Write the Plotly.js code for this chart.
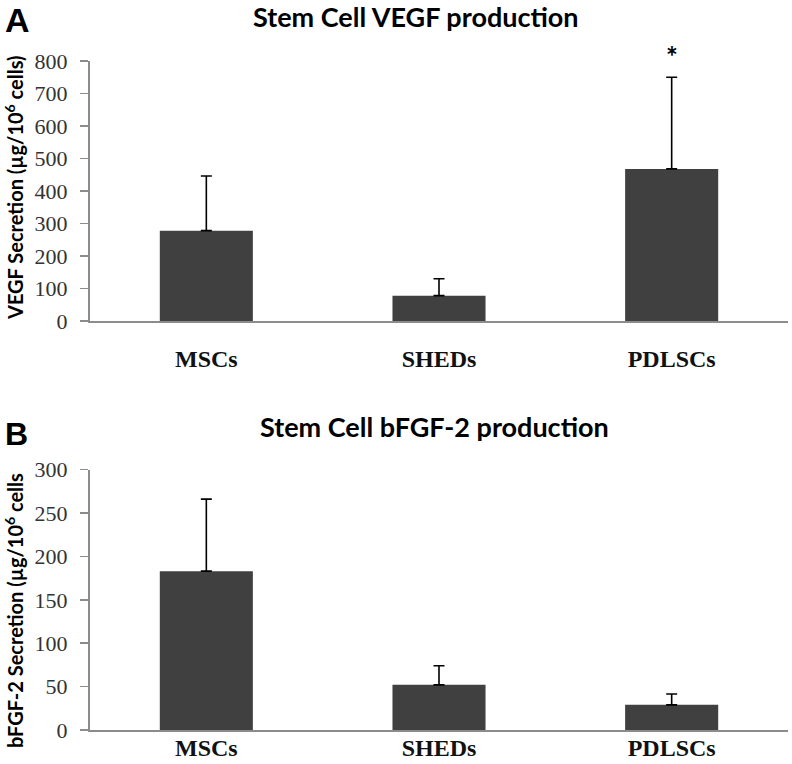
<!DOCTYPE html>
<html>
<head>
<meta charset="utf-8">
<script src="https://cdn.plot.ly/plotly-3.0.1.min.js"></script>
<style>html,body{margin:0;padding:0;background:#fff;}#chart{width:792px;height:764px;}</style>
</head>
<body>
<div id="chart"></div>
<script>
const categories = ['MSCs', 'SHEDs', 'PDLSCs'];
const vegfMeans = [278, 78, 468];
const vegfErr = [168, 52, 282];
const fgfMeans = [183, 52, 29];
const fgfErr = [83, 22, 12.5];
const zeroMinus = [0, 0, 0];
const vegfTicks = [0, 100, 200, 300, 400, 500, 600, 700, 800];
const fgfTicks = [0, 50, 100, 150, 200, 250, 300];

const W = 792, H = 764;
const px = v => v / W;
const py = v => 1 - v / H;

const barColor = '#404040';
const errStyle = {color: '#000', thickness: 1.6, width: 5.5};

const traces = [
  {type: 'bar', x: categories, y: vegfMeans, xaxis: 'x', yaxis: 'y',
   marker: {color: barColor}, showlegend: false, hoverinfo: 'skip',
   error_y: Object.assign({type: 'data', symmetric: false, array: vegfErr, arrayminus: zeroMinus}, errStyle)},
  {type: 'bar', x: categories, y: fgfMeans, xaxis: 'x2', yaxis: 'y2',
   marker: {color: barColor}, showlegend: false, hoverinfo: 'skip',
   error_y: Object.assign({type: 'data', symmetric: false, array: fgfErr, arrayminus: zeroMinus}, errStyle)}
];

const serif = 'Liberation Serif, Times New Roman, serif';
const sans = 'Lato, Open Sans, sans-serif';

function xAxis(domain, anchor, standoff) {
  return {domain: domain, anchor: anchor, showline: true, linecolor: '#8c8c8c', linewidth: 2,
    ticks: '', ticklen: 0, showgrid: false, zeroline: false, range: [-0.5, 2.5],
    tickfont: {family: serif, size: 24, color: '#111', weight: 'bold'}, ticklabelstandoff: standoff};
}
function yAxis(domain, anchor, range, ticks) {
  return {domain: domain, anchor: anchor, range: range, tickvals: ticks, ticktext: ticks.map(String),
    showline: true, linecolor: '#8c8c8c', linewidth: 2, ticks: 'outside', ticklen: 8,
    tickcolor: '#8c8c8c', tickwidth: 1.5, showgrid: false, zeroline: false,
    tickfont: {family: serif, size: 22, color: '#333'}, ticklabelstandoff: 8};
}

const layout = {
  width: W, height: H, margin: {l: 0, r: 0, t: 0, b: 0},
  paper_bgcolor: '#fff', plot_bgcolor: '#fff', bargap: 0.6,
  xaxis: xAxis([px(90), px(788)], 'y', 15),
  yaxis: yAxis([py(321), py(61)], 'x', [0, 800], vegfTicks),
  xaxis2: xAxis([px(90), px(788)], 'y2', -5),
  yaxis2: yAxis([py(730), py(469.6)], 'x2', [0, 300], fgfTicks),
  annotations: [
    {text: 'A', xref: 'paper', yref: 'paper', x: px(3), y: py(20), xanchor: 'left', yanchor: 'middle',
     showarrow: false, font: {family: 'Liberation Sans, Arial, sans-serif', size: 34, color: '#000', weight: 'bold'}},
    {text: 'B', xref: 'paper', yref: 'paper', x: px(3), y: py(434), xanchor: 'left', yanchor: 'middle',
     showarrow: false, font: {family: 'Liberation Sans, Arial, sans-serif', size: 32, color: '#000', weight: 'bold'}},
    {text: 'Stem Cell VEGF production', xref: 'paper', yref: 'paper', x: px(416), y: py(16),
     xanchor: 'center', yanchor: 'middle', showarrow: false,
     font: {family: sans, size: 27, color: '#000', weight: 'bold'}},
    {text: 'Stem Cell bFGF-2 production', xref: 'paper', yref: 'paper', x: px(434), y: py(426),
     xanchor: 'center', yanchor: 'middle', showarrow: false,
     font: {family: sans, size: 27, color: '#000', weight: 'bold'}},
    {text: 'VEGF Secretion (µg/10<sup>6</sup> cells)', xref: 'paper', yref: 'paper', x: px(14), y: py(188),
     xanchor: 'center', yanchor: 'middle', textangle: -90, showarrow: false,
     font: {family: sans, size: 20, color: '#000', weight: 'bold'}},
    {text: 'bFGF-2 Secretion (µg/10<sup>6</sup> cells', xref: 'paper', yref: 'paper', x: px(14), y: py(611),
     xanchor: 'center', yanchor: 'middle', textangle: -90, showarrow: false,
     font: {family: sans, size: 20, color: '#000', weight: 'bold'}},
    {text: '*', xref: 'x', yref: 'y', x: categories[2], y: vegfMeans[2] + vegfErr[2],
     xanchor: 'center', yanchor: 'bottom', yshift: 2, showarrow: false,
     font: {family: sans, size: 28, color: '#000', weight: 'bold'}}
  ]
};

Plotly.newPlot('chart', traces, layout, {staticPlot: true, displayModeBar: false});
</script>
</body>
</html>
